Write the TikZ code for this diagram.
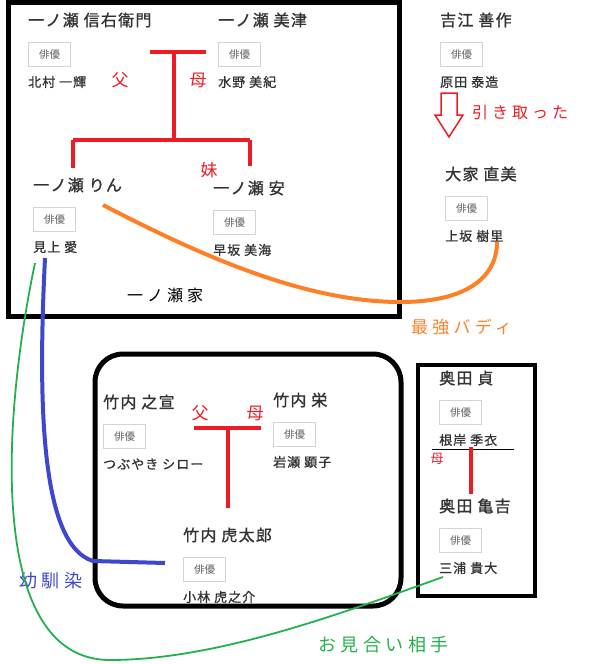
\documentclass[tikz,border=0pt]{standalone}
\usepackage{fontspec}
\setmainfont{Noto Sans CJK JP}
\newfontfamily\spaced[LetterSpace=25]{Noto Sans CJK JP}
\newfontfamily\namefont[FakeBold=1.2, LetterSpace=8]{Noto Sans CJK JP}
\newfontfamily\actorfont[FakeBold=0.8, LetterSpace=8]{Noto Sans CJK JP}
\definecolor{paintred}{HTML}{ED1C24}
\definecolor{paintorange}{HTML}{FF7F27}
\definecolor{paintblue}{HTML}{3F48CC}
\definecolor{paintgreen}{HTML}{22B14C}
\definecolor{darktext}{HTML}{333333}
\definecolor{taggray}{HTML}{D4D4D4}
\definecolor{tagtext}{HTML}{606060}

\begin{document}
\begin{tikzpicture}[x=1pt, y=-1pt,
    role/.style={anchor=west, inner sep=0pt, text=darktext, font=\namefont\fontsize{16}{18}\selectfont},
    tag/.style={anchor=north west, draw=taggray, line width=1.2pt, text=tagtext,
      font=\fontsize{10.5}{12}\selectfont, minimum width=42, minimum height=24, inner sep=0pt},
    actor/.style={anchor=west, inner sep=0pt, text=darktext, font=\actorfont\fontsize{13}{15}\selectfont},
    tie/.style={paintred, line width=4pt},
    note/.style={inner sep=0pt, font=\fontsize{17}{19}\selectfont}]
  \useasboundingbox (0,0) rectangle (596,664);

  % family frames
  \draw[line width=5pt] (8,2) rectangle (399,316);
  \draw[line width=5pt, rounded corners=28pt] (95,354) rectangle (401,606);
  \draw[line width=3.5pt] (418,365) rectangle (535,596);

  \foreach \n/\x/\y/\role/\actor in {
      shin/28/20/一ノ瀬 信右衛門/北村 一輝,
      mitsu/218/20/一ノ瀬 美津/水野 美紀,
      rin/33/185/一ノ瀬 りん/見上 愛,
      yasu/213/188/一ノ瀬 安/早坂 美海,
      zensaku/440/20/吉江 善作/原田 泰造,
      naomi/445/174/大家 直美/上坂 樹里,
      yukinobu/103/402/竹内 之宣/つぶやき シロー,
      sakae/273/400/竹内 栄/岩瀬 顕子,
      kotaro/183/535/竹内 虎太郎/小林 虎之介,
      sada/439/378/奥田 貞/根岸 季衣,
      kamekichi/439/506/奥田 亀吉/三浦 貴大} {
    \node[role] (\n) at (\x,\y) {\role};
    \node[tag] (\n-tag) at (\x,\y+22) {俳優};
    \node[actor] (\n-actor) at (\x,\y+62) {\actor};
  }

  \node[inner sep=0pt, font=\spaced\fontsize{16}{18}\selectfont] (ichinose) at (165,295) {一ノ瀬家};

  % ichinose parents and daughters
  \coordinate (ichiL) at (150,52);
  \coordinate (ichiR) at (206,52);
  \coordinate (ichiM) at (174,52);
  \coordinate (ichiJ) at (174,140);
  \coordinate (ichiA) at (73,140);
  \coordinate (ichiB) at (250,140);
  \coordinate (rinTop) at (73,168);
  \coordinate (yasuTop) at (250,166);
  \draw[tie] (ichiL) -- (ichiR);
  \draw[tie] (ichiM) -- (ichiJ);
  \draw[tie] (ichiA) -- (ichiB);
  \draw[tie] (ichiA) -- (rinTop);
  \draw[tie] (ichiB) -- (yasuTop);
  \node[note, text=paintred] (father1) at (120,80) {父};
  \node[note, text=paintred] (mother1) at (198,80) {母};
  \node[note, text=paintred] (sister) at (209,170) {妹};

  % takeuchi parents and son
  \coordinate (takeL) at (194,428);
  \coordinate (takeR) at (261,428);
  \coordinate (takeM) at (228,426);
  \coordinate (kotaroTop) at (228,508);
  \draw[tie] (takeL) -- (takeR);
  \draw[tie] (takeM) -- (kotaroTop);
  \node[note, text=paintred] (father2) at (200,413) {父};
  \node[note, text=paintred] (mother2) at (255,413) {母};

  % okuda mother and son
  \coordinate (okuL) at (432,449);
  \coordinate (okuR) at (514,449);
  \coordinate (okuM) at (471,447);
  \coordinate (kameTop) at (471,494);
  \draw[line width=1pt] (okuL) -- (okuR);
  \draw[tie] (okuM) -- (kameTop);
  \node[note, text=paintred, font=\fontsize{13}{15}\selectfont] (mother3) at (437,459) {母};

  % taken in
  \draw[paintred, line width=1.5pt] (441,93) -- (457,93) -- (457,115) -- (463,115)
    -- (449,137) -- (435,115) -- (441,115) -- cycle;
  \node[note, text=paintred, anchor=west, font=\spaced\fontsize{16}{18}\selectfont] (taken) at (472,112) {引き取った};

  % buddy
  \coordinate (buddyA) at (103,205);
  \coordinate (buddyB) at (497,242);
  \draw[paintorange, line width=4pt] (buddyA) .. controls (190,250) and (300,302) .. (400,302)
    .. controls (470,302) and (497,275) .. (buddyB);
  \node[note, text=paintorange, anchor=west, font=\spaced\fontsize{17}{19}\selectfont] (buddy) at (411,327) {最強バディ};

  % childhood friend
  \coordinate (friendA) at (45,258);
  \coordinate (friendK) at (93,561);
  \coordinate (friendB) at (165,563);
  \draw[paintblue, line width=4pt] (friendA) .. controls (38,400) and (40,545) .. (friendK) -- (friendB);
  \node[note, text=paintblue, anchor=west, font=\spaced\fontsize{18}{20}\selectfont] (friend) at (19,581) {幼馴染};

  % marriage partner
  \coordinate (omiaiA) at (35,263);
  \coordinate (omiaiK) at (110,660);
  \coordinate (omiaiB) at (443,577);
  \draw[paintgreen, line width=1.8pt] (omiaiA) .. controls (0,430) and (-10,660) .. (omiaiK)
    .. controls (220,660) and (350,610) .. (omiaiB);
  \node[note, text=paintgreen, anchor=west, font=\spaced\fontsize{18}{20}\selectfont] (omiai) at (318,645) {お見合い相手};
\end{tikzpicture}
\end{document}
